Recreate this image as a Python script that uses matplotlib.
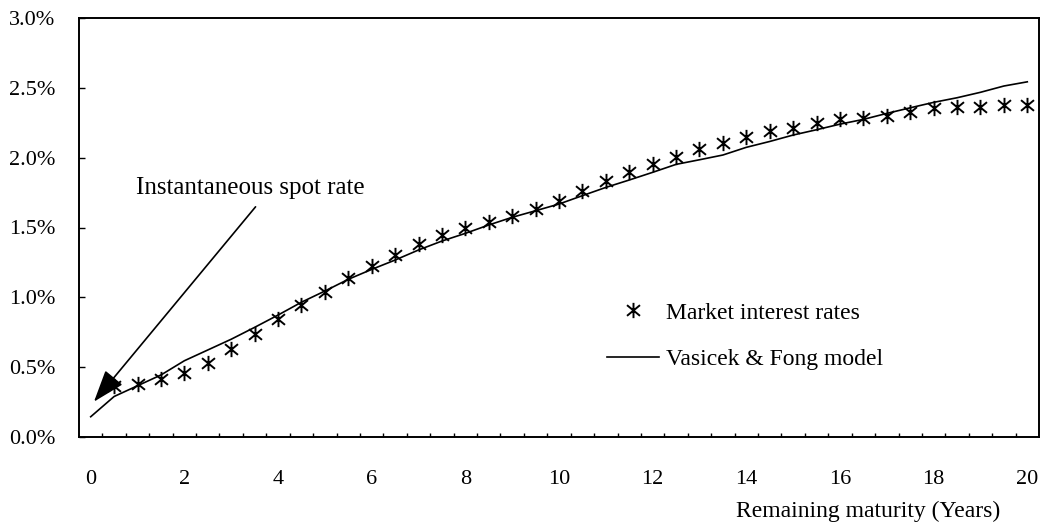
import numpy as np
import matplotlib
matplotlib.use("Agg")
import matplotlib.pyplot as plt
from matplotlib.path import Path
from matplotlib.ticker import FixedLocator, FuncFormatter

plt.rcParams['font.family'] = ['Liberation Serif', 'DejaVu Serif']

# Remaining maturity (years), one category every half year
maturity = [i * 0.5 for i in range(41)]

# Observed market interest rates (%), from 0.5 years onward
market_maturity = maturity[1:]
market_rates = [0.365, 0.379, 0.413, 0.460, 0.532, 0.628, 0.737, 0.847, 0.945, 1.040,
                1.140, 1.224, 1.303, 1.379, 1.446, 1.498, 1.541, 1.582, 1.635, 1.690,
                1.760, 1.830, 1.900, 1.954, 2.006, 2.059, 2.107, 2.148, 2.190, 2.215,
                2.245, 2.274, 2.281, 2.298, 2.329, 2.353, 2.364, 2.364, 2.376, 2.376]

# Fitted Vasicek & Fong curve (%)
model_rates = [0.145, 0.290, 0.367, 0.444, 0.546, 0.623, 0.700, 0.785, 0.873, 0.965,
               1.045, 1.129, 1.200, 1.267, 1.339, 1.403, 1.458, 1.518, 1.573, 1.620,
               1.668, 1.728, 1.787, 1.840, 1.895, 1.952, 1.985, 2.019, 2.074, 2.116,
               2.162, 2.200, 2.240, 2.274, 2.317, 2.357, 2.396, 2.429, 2.468, 2.513,
               2.543]

x_labels = [0, 2, 4, 6, 8, 10, 12, 14, 16, 18, 20]
y_ticks = [0.0, 0.5, 1.0, 1.5, 2.0, 2.5, 3.0]

# asterisk marker: one vertical stroke crossed by two diagonals
asterisk = Path([(0, -1), (0, 1), (-0.85, -0.7), (0.85, 0.7), (-0.85, 0.7), (0.85, -0.7)],
                [Path.MOVETO, Path.LINETO] * 3)

fig = plt.figure(figsize=(10.44, 5.27), dpi=100)
W, H = 1044, 527
ax = fig.add_axes([79 / W, 1 - 437 / H, (1039 - 79) / W, (437 - 18) / H])

ax.plot(market_maturity, market_rates, linestyle='none', marker=asterisk,
        ms=11, mew=1.4, mfc='none', mec='black', label='Market interest rates')
ax.plot(maturity, model_rates, color='black', lw=1.2, label='Vasicek & Fong model')

ax.set_xlim(-0.25, 20.25)
ax.set_ylim(0, 3.0)

ax.xaxis.set_major_locator(FixedLocator(x_labels))
ax.xaxis.set_major_formatter(FuncFormatter(lambda v, p: f"{v:g}"))
ax.xaxis.set_minor_locator(FixedLocator([0.25 + 0.5 * i for i in range(40)]))
ax.tick_params(axis='x', which='major', length=0, pad=24, labelsize=16)
ax.tick_params(axis='x', which='minor', direction='in', length=3, width=1)

ax.yaxis.set_major_locator(FixedLocator(y_ticks))
ax.yaxis.set_major_formatter(FuncFormatter(lambda v, p: f"{v:.1f}%"))
ax.tick_params(axis='y', which='major', direction='in', length=4.5, width=1,
               pad=17, labelsize=16)

for sp in ax.spines.values():
    sp.set_linewidth(1.4)
    sp.set_color('black')

ax.set_xlabel('Remaining maturity (Years)', fontsize=17)
ax.xaxis.set_label_coords(0.822, -0.152)

# annotation pointing at the short end of the curve
ax.annotate('', xy=(0.07, 0.253), xytext=(3.52, 1.648),
            arrowprops=dict(arrowstyle='-|>,head_length=2.0,head_width=0.7',
                            color='black', lw=1.2, shrinkA=0, shrinkB=0))
ax.text(0.96, 1.782, 'Instantaneous spot rate', fontsize=18, va='center', ha='left')

ax.legend(loc='upper left', bbox_to_anchor=(607 / W, 1 - 302 / H),
          bbox_transform=fig.transFigure, frameon=False, fontsize=17,
          handlelength=2.2, handletextpad=0.3, labelspacing=1.05,
          borderpad=0, borderaxespad=0)

fig.savefig('out.png', dpi=100)
